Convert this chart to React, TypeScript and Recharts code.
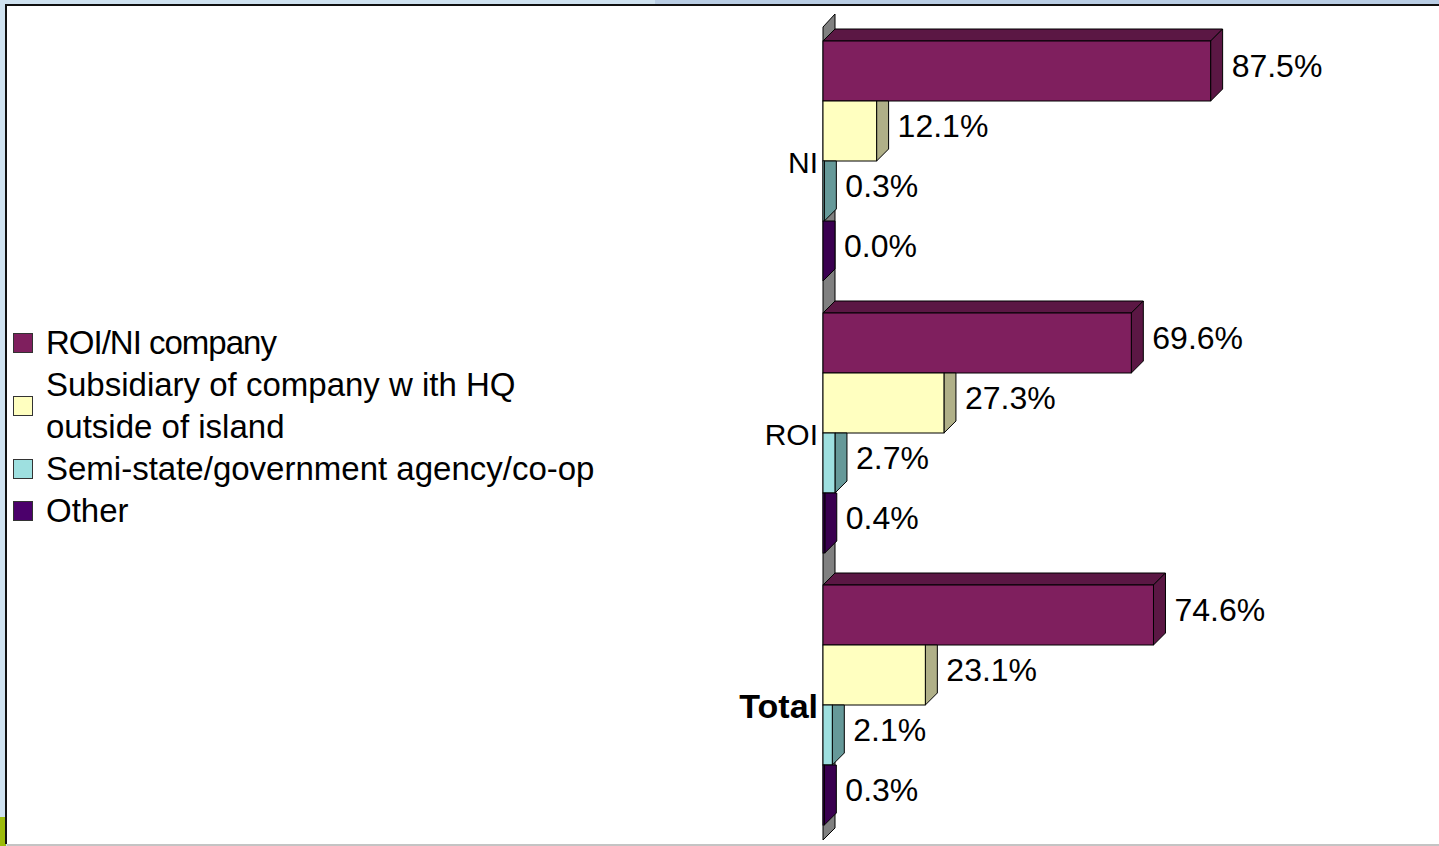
import React from 'react';
import { BarChart, Bar, XAxis, YAxis, LabelList, Legend, ReferenceArea } from 'recharts';

const categories = ['NI', 'ROI', 'Total'];
const roiNiCompany = [87.5, 69.6, 74.6];
const subsidiary = [12.1, 27.3, 23.1];
const semiState = [0.3, 2.7, 2.1];
const other = [0.0, 0.4, 0.3];

const seriesNames = [
  'ROI/NI company',
  'Subsidiary of company w ith HQ outside of island',
  'Semi-state/government agency/co-op',
  'Other',
];

const DEPTH = 12;
const FONT = '"Liberation Sans", Arial, sans-serif';

const series = [
  { key: 'roiNi', name: seriesNames[0], front: '#7f1f5e', side: '#5b1744', lines: ['ROI/NI company'], tight: true },
  { key: 'subsidiary', name: seriesNames[1], front: '#ffffc0', side: '#b0b088', lines: ['Subsidiary of company w ith HQ', 'outside of island'] },
  { key: 'semi', name: seriesNames[2], front: '#9ee0e0', side: '#669999', lines: ['Semi-state/government agency/co-op'] },
  { key: 'other', name: seriesNames[3], front: '#4b006b', side: '#3a0050', lines: ['Other'] },
];

const data = categories.map((name, i) => ({
  name,
  roiNi: roiNiCompany[i],
  subsidiary: subsidiary[i],
  semi: semiState[i],
  other: other[i],
}));

function make3DBar(front: string, side: string, showTop: boolean) {
  return (props: any) => {
    const { x, y, width, height } = props;
    const w = Math.max(0, width);
    const d = DEPTH;
    return (
      <g>
        {showTop && (
          <polygon
            points={`${x},${y} ${x + d},${y - d} ${x + w + d},${y - d} ${x + w},${y}`}
            fill={side}
            stroke="#000"
            strokeWidth={1}
          />
        )}
        <polygon
          points={showTop
            ? `${x + w},${y} ${x + w + d},${y - d} ${x + w + d},${y + height - d} ${x + w},${y + height}`
            : `${x + w},${y} ${x + w + d},${y} ${x + w + d},${y + height - d} ${x + w},${y + height}`}
          fill={side}
          stroke="#000"
          strokeWidth={1}
        />
        {w > 0 && <rect x={x} y={y} width={w} height={height} fill={front} stroke="#000" strokeWidth={1} />}
      </g>
    );
  };
}

function ValueLabel(props: any) {
  const { x, y, width, height, value } = props;
  return (
    <text
      x={x + Math.max(0, width) + DEPTH + 9}
      y={y + height / 2 - 5}
      fontSize={32}
      fontFamily={FONT}
      fill="#000"
      dominantBaseline="central"
    >
      {`${Number(value).toFixed(1)}%`}
    </text>
  );
}

function CategoryTick(props: any) {
  const { x, y, payload } = props;
  const bold = payload.value === 'Total';
  return (
    <text
      x={x + 3}
      y={y + 1}
      textAnchor="end"
      dominantBaseline="central"
      fontSize={bold ? 34 : 30}
      fontWeight={bold ? 'bold' : 'normal'}
      fontFamily={FONT}
      fill="#000"
    >
      {payload.value}
    </text>
  );
}

function Wall(props: any) {
  const { x, y, height } = props;
  const d = DEPTH;
  return (
    <polygon
      points={`${x},${y + 2} ${x + d},${y - 11} ${x + d},${y + height - 13} ${x},${y + height - 1}`}
      fill="#808080"
      stroke="#000"
      strokeWidth={1}
    />
  );
}

function LegendBox() {
  return (
    <div style={{ fontFamily: FONT, fontSize: 33, color: '#000', lineHeight: '42px', textAlign: 'left' }}>
      {series.map(s => (
        <div key={s.key} style={{ display: 'flex', alignItems: 'center' }}>
          <div
            style={{
              width: 18,
              height: 18,
              background: s.front,
              border: '1px solid #333',
              marginRight: 13,
              flexShrink: 0,
            }}
          />
          <div style={{ whiteSpace: 'nowrap', letterSpacing: s.tight ? '-1px' : 0 }}>
            {s.lines.map(l => (
              <div key={l}>{l}</div>
            ))}
          </div>
        </div>
      ))}
    </div>
  );
}

export default function App() {
  return (
    <div
      style={{
        position: 'relative',
        width: 1439,
        height: 846,
        background: '#cfe2f0',
        overflow: 'hidden',
        fontFamily: FONT,
      }}
    >
      <style>{'body{margin:0}'}</style>
      <div style={{ position: 'absolute', left: 655, top: 0, width: 784, height: 5, background: '#b9cde4' }} />
      <div style={{ position: 'absolute', left: 0, top: 817, width: 6, height: 29, background: '#9cbb0b' }} />
      <div
        style={{
          position: 'absolute',
          left: 5,
          top: 4,
          width: 1434,
          height: 840,
          background: '#fff',
          borderLeft: '2px solid #111',
          borderTop: '2px solid #111',
          boxSizing: 'border-box',
        }}
      />
      <div style={{ position: 'absolute', left: 7, top: 844, width: 1432, height: 2, background: '#c4c4c4' }} />
      <div style={{ position: 'absolute', left: 0, top: 0 }}>
        <BarChart
          width={1439}
          height={846}
          data={data}
          layout="vertical"
          barGap={0}
          barSize={60}
          margin={{ top: 25, right: 173, bottom: 5, left: 0 }}
        >
          <XAxis type="number" domain={[0, 100]} hide />
          <YAxis
            type="category"
            dataKey="name"
            width={823}
            axisLine={false}
            tickLine={false}
            tick={<CategoryTick />}
          />
          <ReferenceArea x1={0} x2={1} shape={<Wall />} fillOpacity={1} ifOverflow="visible" />
          <Legend
            layout="horizontal"
            align="center"
            verticalAlign="middle"
            wrapperStyle={{ left: 13, top: 322, width: 640 }}
            content={() => <LegendBox />}
          />
          {series.map((s, i) => (
            <Bar
              key={s.key}
              dataKey={s.key}
              name={s.name}
              fill={s.front}
              isAnimationActive={false}
              shape={make3DBar(s.front, s.side, i === 0)}
            >
              <LabelList dataKey={s.key} content={<ValueLabel />} />
            </Bar>
          ))}
        </BarChart>
      </div>
    </div>
  );
}
